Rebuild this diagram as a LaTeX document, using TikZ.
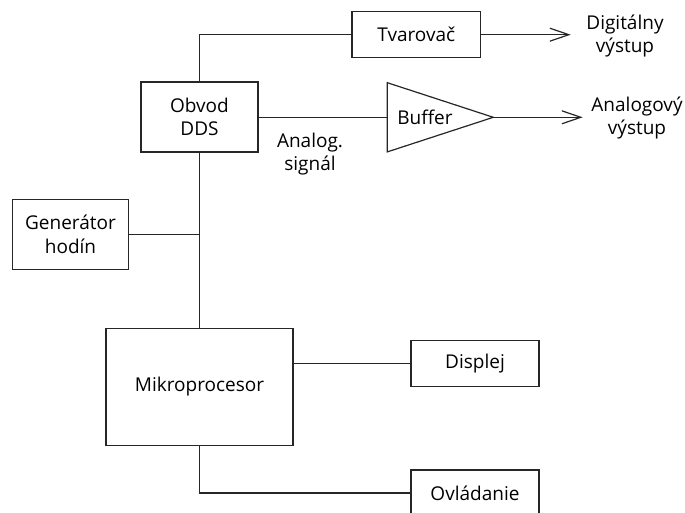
\documentclass[tikz,border=0pt]{standalone}
\usepackage{fontspec}
\setmainfont{Open Sans}
\usetikzlibrary{arrows.meta}
\begin{document}
\begin{tikzpicture}[x=1pt,y=-1pt,
  every node/.style={font=\fontsize{19}{23.5}\selectfont, text=black},
  blk/.style={draw=black!85, line width=1.2pt, rectangle, inner sep=0pt, align=center},
  wire/.style={draw=black!85, line width=1.2pt},
  arr/.style={wire, -{Straight Barb[length=19pt,width=13pt,line width=1.2pt]}},
  lbl/.style={align=center, inner sep=0pt}]
\useasboundingbox (0,0) rectangle (685,513);
\node[blk, minimum width=128.7pt, minimum height=46pt] (tvar) at (416.3,34.7) {Tvarovač};
\node[blk, minimum width=117pt, minimum height=70pt] (dds) at (199.5,117) {Obvod\\DDS};
\node[blk, minimum width=116.4pt, minimum height=70pt] (gen) at (70.5,234.3) {Generátor\\hodín};
\node[blk, minimum width=187pt, minimum height=117pt] (mp) at (199.5,386.8) {Mikroprocesor};
\node[blk, minimum width=128pt, minimum height=46pt] (disp) at (475,363.3) {Displej};
\node[blk, minimum width=128pt, minimum height=46pt] (ovl) at (475,493) {Ovládanie};
% buffer triangle
\coordinate (bin) at (387.3,117.3);
\coordinate (bout) at (493.3,117.3);
\draw[wire, line join=miter] (387.3,82.7) -- (bout) -- (387.3,151.9) -- cycle;
\node[lbl] (buf) at (425,117) {Buffer};
% outputs
\coordinate (dout) at (570.7,34.7);
\coordinate (aout) at (582.7,117.3);
\node[lbl] (dlab) at (625,36) {Digitálny\\výstup};
\node[lbl] (alab) at (637,118) {Analogový\\výstup};
\node[lbl] (sig) at (310,154) {Analog.\\signál};
% connectors
\draw[wire] (dds.north) |- (tvar.west);
\draw[arr] (tvar.east) -- (dout);
\draw[wire] (dds.east |- bin) -- (bin);
\draw[arr] (bout) -- (aout);
\draw[wire] (dds.south) -- (mp.north);
\draw[wire] (gen.east) -- (gen.east -| dds.south);
\draw[wire] (mp.east |- disp.west) -- (disp.west);
\draw[wire] (mp.south) |- (ovl.west);
\end{tikzpicture}
\end{document}
